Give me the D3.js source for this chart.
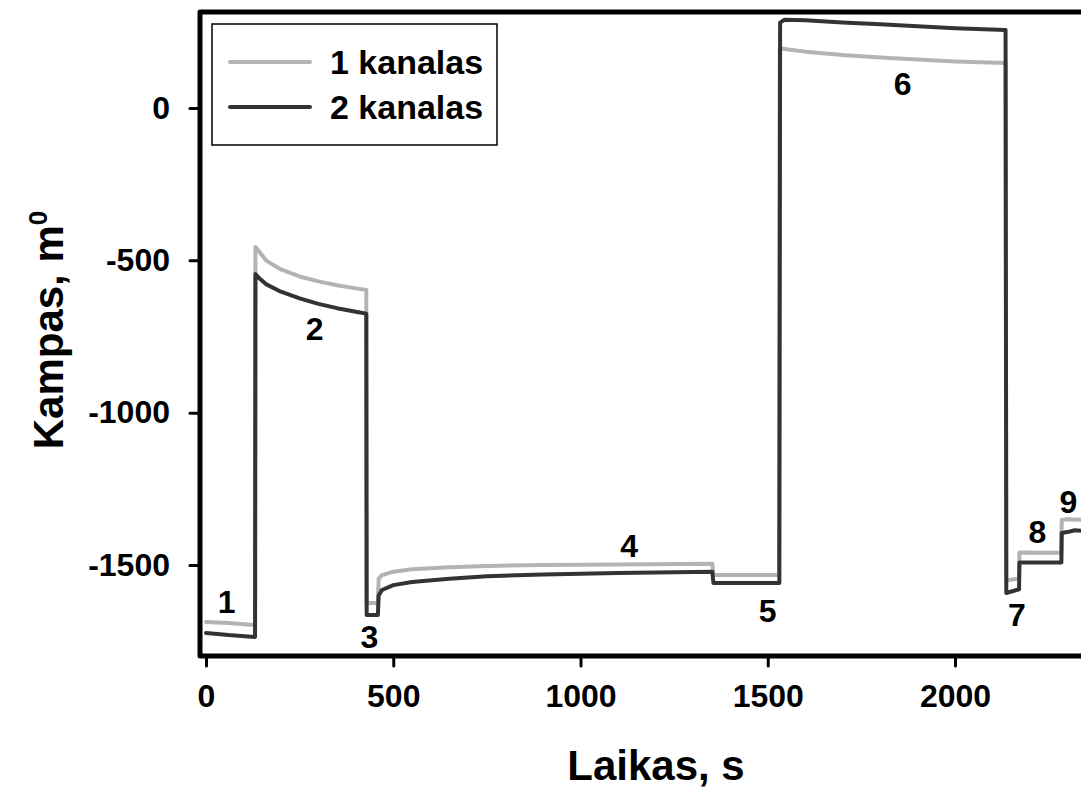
<!DOCTYPE html>
<html>
<head>
<meta charset="utf-8">
<script src="https://cdn.jsdelivr.net/npm/d3@7"></script>
<style>
  html, body { margin: 0; padding: 0; background: #fff; overflow: hidden; }
  svg { display: block; font-family: "Liberation Sans", Arial, sans-serif; font-weight: bold; }
</style>
</head>
<body>
<svg id="chart" width="1081" height="791"></svg>
<script>
// Channel 1 recording: [time s, angle m°]
const kanalas1 = [
  [0, -1687], [60, -1690], [128, -1697],
  [131, -1697], [132, -456], [140, -468], [160, -500], [200, -530], [250, -553],
  [300, -569], [350, -582], [400, -592], [428, -597],
  [429, -1625], [455, -1625],
  [459, -1625], [461, -1545], [470, -1533], [500, -1522], [550, -1514], [650, -1507],
  [750, -1503], [900, -1500], [1100, -1498], [1352, -1496],
  [1355, -1533], [1530, -1533],
  [1532, 196], [1560, 191], [1600, 185], [1700, 174], [1800, 166], [1900, 159],
  [2000, 153], [2135, 148],
  [2137, -1550], [2171, -1545],
  [2172, -1459], [2284, -1460],
  [2285, -1352], [2300, -1350], [2340, -1352]
];

// Channel 2 recording: [time s, angle m°]
const kanalas2 = [
  [0, -1723], [60, -1730], [130, -1736],
  [131, -1736], [132, -545], [140, -556], [160, -578], [200, -603], [250, -625],
  [300, -643], [350, -657], [400, -669], [428, -675],
  [429, -1664], [459, -1664],
  [461, -1600], [470, -1582], [500, -1566], [550, -1556], [650, -1545],
  [750, -1537], [900, -1531], [1100, -1526], [1352, -1522],
  [1355, -1559], [1531, -1559],
  [1533, 280], [1545, 290], [1600, 288], [1700, 281], [1800, 275], [1900, 268],
  [2000, 262], [2135, 256],
  [2137, -1592], [2171, -1580],
  [2172, -1492], [2284, -1492],
  [2285, -1395], [2300, -1392], [2320, -1386], [2340, -1388]
];

// Stage numbers placed along the curves: [label, time s, angle m°]
const stageLabels = [
  ["1", 55, -1622], ["2", 290, -727], ["3", 436, -1735], ["4", 1130, -1437],
  ["5", 1500, -1652], ["6", 1860, 80], ["7", 2165, -1665], ["8", 2220, -1393],
  ["9", 2303, -1293]
];

const xTicks = [0, 500, 1000, 1500, 2000];
const yTicks = [0, -500, -1000, -1500];
const seriesNames = ["1 kanalas", "2 kanalas"];
const seriesColors = ["#b3b3b3", "#333333"];

const svg = d3.select("#chart");

const x = d3.scaleLinear().domain([0, 2000]).range([206, 955]);
const y = d3.scaleLinear().domain([0, -1500]).range([108, 565]);

const frameLeft = 200, frameTop = 12, frameBottom = 656, frameRight = 1120;

// Curves
const line = d3.line().x(d => x(d[0])).y(d => y(d[1]));
[kanalas1, kanalas2].forEach((data, i) => {
  svg.append("path")
    .datum(data)
    .attr("d", line)
    .attr("fill", "none")
    .attr("stroke", seriesColors[i])
    .attr("stroke-width", 4)
    .attr("stroke-linejoin", "round")
    .attr("stroke-linecap", "round");
});

// Frame: left axis, top border, bottom axis
svg.append("path")
  .attr("d", `M${frameLeft},${frameBottom}V${frameTop}H${frameRight}M${frameLeft},${frameBottom}H${frameRight}`)
  .attr("fill", "none")
  .attr("stroke", "#000")
  .attr("stroke-width", 5)
  .attr("stroke-linejoin", "round")
  .attr("stroke-linecap", "round");

const tickFont = 32;

// X axis ticks and labels
const xAxis = d3.axisBottom(x).tickValues(xTicks).tickSize(8).tickPadding(18).tickFormat(d3.format("d"));
const gx = svg.append("g").attr("transform", `translate(0,${frameBottom + 2})`).call(xAxis);
gx.select(".domain").remove();
gx.selectAll(".tick line").attr("stroke", "#000").attr("stroke-width", 3).attr("stroke-linecap", "round");
gx.selectAll(".tick text").attr("font-size", tickFont).attr("font-family", "Liberation Sans, Arial, sans-serif").attr("font-weight", "bold").attr("fill", "#000");

// Y axis ticks and labels
const yAxis = d3.axisLeft(y).tickValues(yTicks).tickSize(8).tickPadding(20).tickFormat(d3.format("d"));
const gy = svg.append("g").attr("transform", `translate(${frameLeft - 2},0)`).call(yAxis);
gy.select(".domain").remove();
gy.selectAll(".tick line").attr("stroke", "#000").attr("stroke-width", 3).attr("stroke-linecap", "round");
gy.selectAll(".tick text").attr("font-size", tickFont).attr("font-family", "Liberation Sans, Arial, sans-serif").attr("font-weight", "bold").attr("fill", "#000")
  .text(d => d < 0 ? "-" + Math.abs(d) : d);

// Axis titles
svg.append("text")
  .attr("x", 656).attr("y", 780)
  .attr("text-anchor", "middle")
  .attr("font-size", 42)
  .text("Laikas, s");

const yTitle = svg.append("text")
  .attr("transform", "translate(63,330) rotate(-90)")
  .attr("text-anchor", "middle")
  .attr("font-size", 42);
yTitle.append("tspan").text("Kampas, m");
yTitle.append("tspan").attr("dy", -16).attr("font-size", 26).text("0");

// Stage numbers
svg.append("g").selectAll("text")
  .data(stageLabels)
  .join("text")
  .attr("x", d => x(d[1]))
  .attr("y", d => y(d[2]))
  .attr("text-anchor", "middle")
  .attr("dominant-baseline", "central")
  .attr("font-size", 32)
  .text(d => d[0]);

// Legend
const lg = svg.append("g");
lg.append("rect")
  .attr("x", 212).attr("y", 24).attr("width", 285).attr("height", 121)
  .attr("fill", "#fff").attr("stroke", "#000").attr("stroke-width", 1.5);
seriesNames.forEach((name, i) => {
  const yy = 62 + i * 45;
  lg.append("line")
    .attr("x1", 230).attr("x2", 310).attr("y1", yy).attr("y2", yy)
    .attr("stroke", seriesColors[i]).attr("stroke-width", 4).attr("stroke-linecap", "round");
  lg.append("text")
    .attr("x", 330).attr("y", yy)
    .attr("dominant-baseline", "central")
    .attr("font-size", 34)
    .text(name);
});
</script>
</body>
</html>
